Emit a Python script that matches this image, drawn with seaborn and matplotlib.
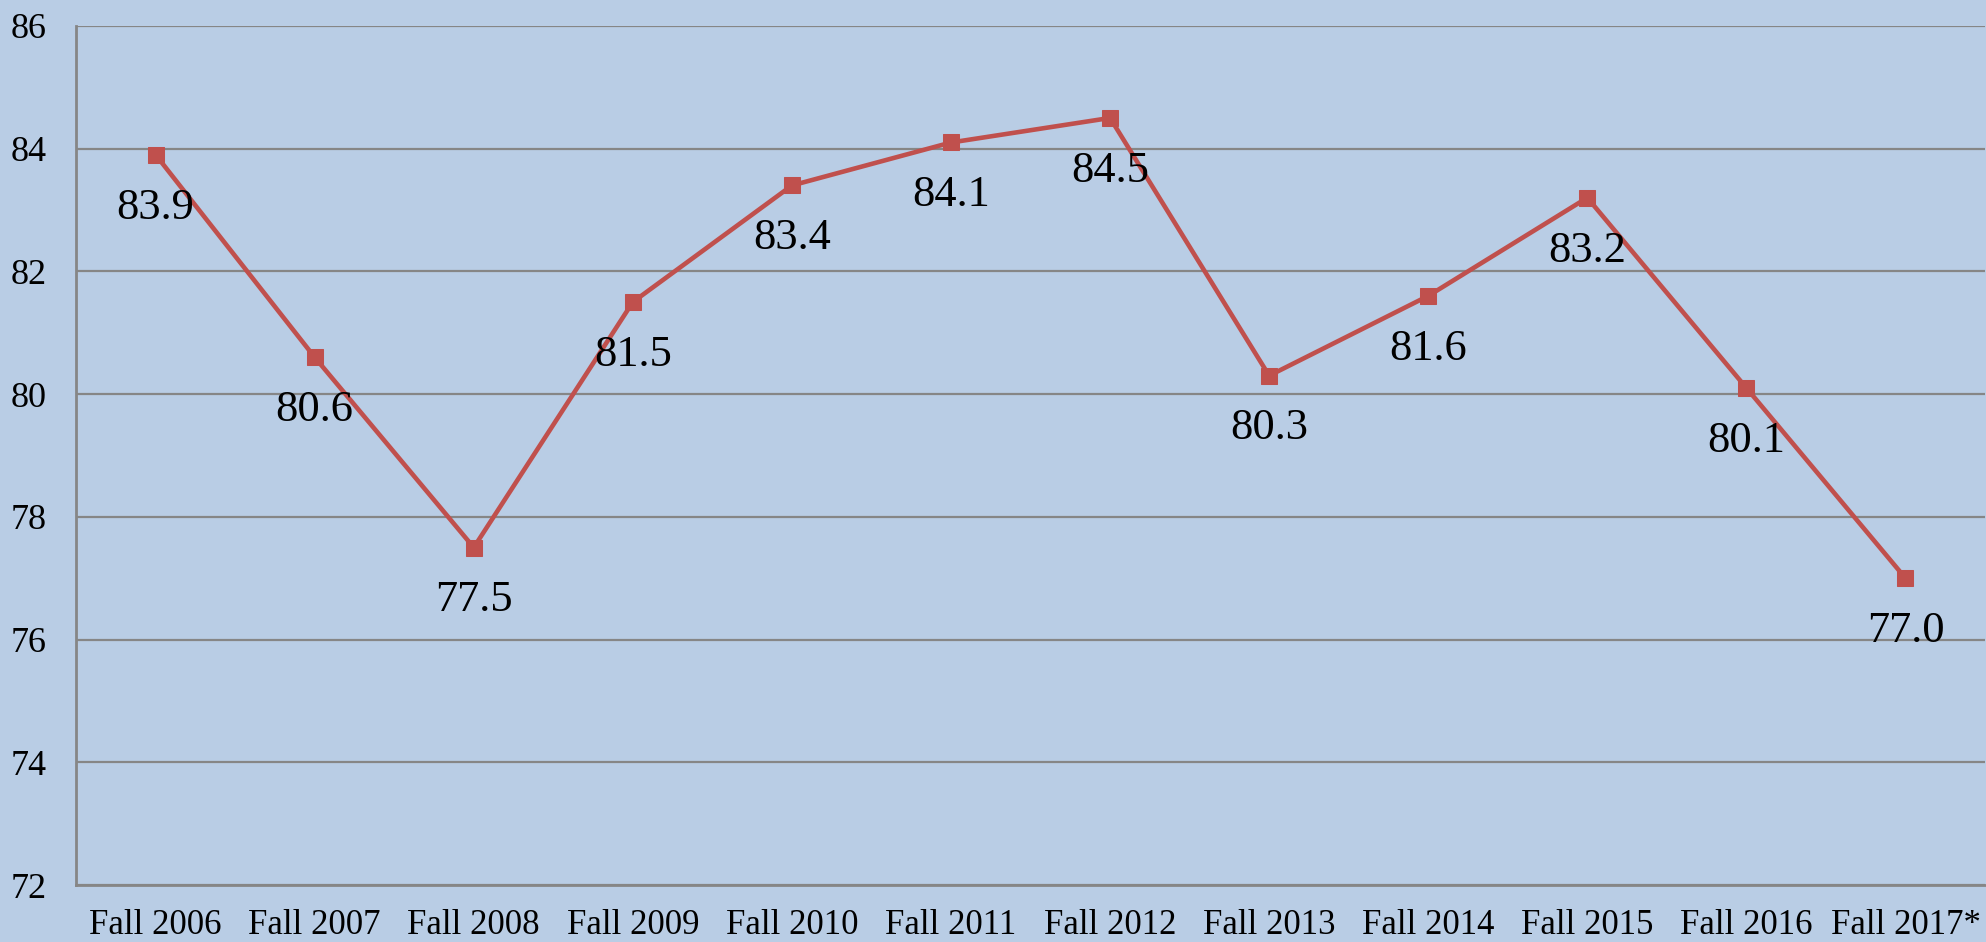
import pandas as pd
import matplotlib.pyplot as plt
import seaborn as sns

# data
terms = ['Fall 2006', 'Fall 2007', 'Fall 2008', 'Fall 2009', 'Fall 2010', 'Fall 2011',
         'Fall 2012', 'Fall 2013', 'Fall 2014', 'Fall 2015', 'Fall 2016', 'Fall 2017*']
values = [83.9, 80.6, 77.5, 81.5, 83.4, 84.1, 84.5, 80.3, 81.6, 83.2, 80.1, 77.0]
y_ticks = [72, 74, 76, 78, 80, 82, 84, 86]

df = pd.DataFrame({'term': terms, 'value': values})
df['pos'] = range(len(df))

sns.set_style('white')
plt.rcParams['font.family'] = ['Liberation Serif', 'DejaVu Serif']

bg = '#B9CDE5'
red = '#C0504D'
grey = '#868686'

fig = plt.figure(figsize=(19.86, 9.42), dpi=100, facecolor=bg)
ax = fig.add_axes([0.0383, 0.0605, 0.9612, 0.912])
ax.set_facecolor(bg)

sns.lineplot(data=df, x='pos', y='value', ax=ax, color=red, linewidth=3.3,
             marker='s', markersize=11.5, markeredgecolor=red, markerfacecolor=red)

# data labels under each point
for x, v in zip(df['pos'], df['value']):
    ax.annotate(f'{v:.1f}', (x, v), xytext=(0, -38), textcoords='offset points',
                ha='center', va='center', fontsize=32, color='black')

ax.set_xlim(-0.5, len(terms) - 0.5)
ax.set_ylim(72, 86)
ax.set_yticks(y_ticks)
ax.set_xticks(df['pos'])
ax.set_xticklabels(terms)
ax.set_xticks([i - 0.5 for i in range(len(terms) + 1)], minor=True)
ax.set_xlabel('')
ax.set_ylabel('')

ax.yaxis.grid(True, color=grey, linewidth=1.6)
ax.set_axisbelow(True)
for side in ['top', 'right']:
    ax.spines[side].set_visible(False)
for side in ['left', 'bottom']:
    ax.spines[side].set_color(grey)
    ax.spines[side].set_linewidth(2)

ax.tick_params(axis='x', which='major', length=0, pad=17, labelsize=25, labelcolor='black')
ax.tick_params(axis='x', which='minor', length=7, width=1.6, color=grey, direction='out')
ax.tick_params(axis='y', length=7, width=1.6, color=grey, direction='out', pad=14,
               labelsize=26, labelcolor='black')

fig.savefig('out.png', dpi=100, facecolor=bg)
